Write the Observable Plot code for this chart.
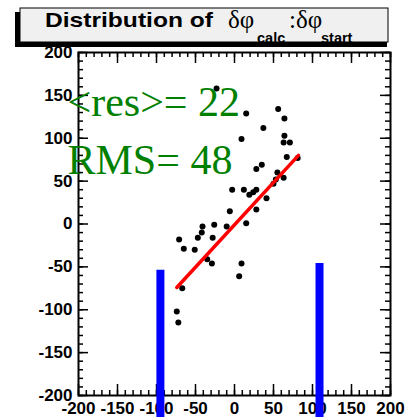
<!DOCTYPE html>
<html><head><meta charset="utf-8">
<script src="https://cdn.jsdelivr.net/npm/d3@7"></script>
<script src="https://cdn.jsdelivr.net/npm/@observablehq/plot@0.6"></script>
<style>body{margin:0;background:#fff;}</style>
</head><body><div id="chart"></div>
<script>
// scatter values (δφ_start on x, δφ_calc on y)
const pointX = [-23, 15, 56, 64, 37, 9, 64, 63, 71, 67, 81, 35, 28, 55, 63, 53, 50, -3, 12, 28, 24, 19, 41, -6, 28, -26, -10, 15, -41, -42, -71, -47, -28, -65, -51, -35, -29, 9, 6, -67, -74, -72];
const pointY = [158, 129, 134, 123, 112, 99, 103, 95, 95, 78, 77, 69, 64, 60, 54, 52, 47, 40, 40, 40, 37, 34, 30, 15, 17, -1, -3, 1, -3, -10, -18, -16, -16, -29, -30, -41, -46, -46, -61, -75, -102, -115];
// fit line end points
const fitX = [-74, 82];
const fitY = [-74, 80];
// blue markers
const bandX = [-95, 109];
const bandTop = [-54, -46];
const bandBottom = [-230, -230];
// ticks
const xTicks = [-200, -150, -100, -50, 0, 50, 100, 150, 200];
const yTicks = [-200, -150, -100, -50, 0, 50, 100, 150, 200];
const minorTicks = d3.range(-200, 201, 10);
const statLines = ["<res>= 22", "RMS= 48"];
const titleMain = "Distribution of";

const points = pointX.map((x, i) => ({x, y: pointY[i]}));
const fit = fitX.map((x, i) => ({x, y: fitY[i]}));
const bands = bandX.map((x, i) => ({x, y1: bandTop[i], y2: bandBottom[i]}));

const W = 405, H = 417, mL = 78, mR = 15, mT = 52, mB = 22;
const FW = W - mL - mR, FH = H - mT - mB;
const lblFont = {fontSize: 17, fontWeight: "bold", fontFamily: "Liberation Sans, Arial, sans-serif"};

const svg = Plot.plot({
  width: W, height: H,
  marginLeft: mL, marginRight: mR, marginTop: mT, marginBottom: mB,
  style: {background: "#fff", color: "#000"},
  x: {domain: [-200, 200]},
  y: {domain: [-200, 200]},
  marks: [
    Plot.axisX({ticks: xTicks, tickSize: 0, tickPadding: 6, tickFormat: d => String(d), label: null, ...lblFont}),
    Plot.axisY({ticks: yTicks, tickSize: 0, tickPadding: 6, tickFormat: d => String(d), label: null, ...lblFont}),
    // inward ticks
    Plot.tickX(minorTicks, {x: d => d, insetTop: FH - 5, stroke: "#000", strokeWidth: 1.5}),
    Plot.tickX(minorTicks, {x: d => d, insetBottom: FH - 5, stroke: "#000", strokeWidth: 1.5}),
    Plot.tickX(xTicks, {x: d => d, insetTop: FH - 11, stroke: "#000", strokeWidth: 1.5}),
    Plot.tickX(xTicks, {x: d => d, insetBottom: FH - 11, stroke: "#000", strokeWidth: 1.5}),
    Plot.tickY(minorTicks, {y: d => d, insetRight: FW - 5, stroke: "#000", strokeWidth: 1.5}),
    Plot.tickY(minorTicks, {y: d => d, insetLeft: FW - 5, stroke: "#000", strokeWidth: 1.5}),
    Plot.tickY(yTicks, {y: d => d, insetRight: FW - 10, stroke: "#000", strokeWidth: 1.5}),
    Plot.tickY(yTicks, {y: d => d, insetLeft: FW - 10, stroke: "#000", strokeWidth: 1.5}),
    Plot.frame({stroke: "#000", strokeWidth: 2}),
    Plot.dot(points, {x: "x", y: "y", r: 3, fill: "#000", stroke: "none"}),
    Plot.line(fit, {x: "x", y: "y", stroke: "#ff0000", strokeWidth: 3.5}),
    Plot.ruleX(bands, {x: "x", y1: "y1", y2: "y2", stroke: "#0000ff", strokeWidth: 8}),
    Plot.text([statLines[0]], {text: d => d, frameAnchor: "top-left", dx: -11, dy: 63, lineAnchor: "bottom", textAnchor: "start", fontSize: 42, fontFamily: "Liberation Serif, Times New Roman, serif", fill: "#008000"}),
    Plot.text([statLines[1]], {text: d => d, frameAnchor: "top-left", dx: -11, dy: 121, lineAnchor: "bottom", textAnchor: "start", fontSize: 42, fontFamily: "Liberation Serif, Times New Roman, serif", fill: "#008000"})
  ]
});

// title box (ROOT style pave with shadow)
const g = d3.select(svg).append("g").attr("text-anchor", "start");
g.append("rect").attr("x", 15).attr("y", 12).attr("width", 372).attr("height", 35).attr("fill", "#000");
g.append("rect").attr("x", 20).attr("y", 8).attr("width", 368).attr("height", 34).attr("fill", "#f0f0f0").attr("stroke", "#000").attr("stroke-width", 1);
const sans = "Liberation Sans, Arial, sans-serif", serif = "Liberation Serif, Times New Roman, serif";
g.append("text").attr("text-anchor", "start").attr("x", 45).attr("y", 27).attr("font-family", sans).attr("font-weight", "bold").attr("font-size", 21).attr("textLength", 168).attr("lengthAdjust", "spacingAndGlyphs").text(titleMain);
g.append("text").attr("text-anchor", "start").attr("x", 228).attr("y", 28).attr("font-family", serif).attr("font-size", 25).text("δφ");
g.append("text").attr("text-anchor", "start").attr("x", 257).attr("y", 43).attr("font-family", sans).attr("font-weight", "bold").attr("font-size", 14.5).text("calc");
g.append("text").attr("text-anchor", "start").attr("x", 289).attr("y", 28).attr("font-family", serif).attr("font-size", 25).text(":δφ");
g.append("text").attr("text-anchor", "start").attr("x", 321).attr("y", 43).attr("font-family", sans).attr("font-weight", "bold").attr("font-size", 14.5).text("start");

document.getElementById("chart").appendChild(svg);
</script>
</body></html>
